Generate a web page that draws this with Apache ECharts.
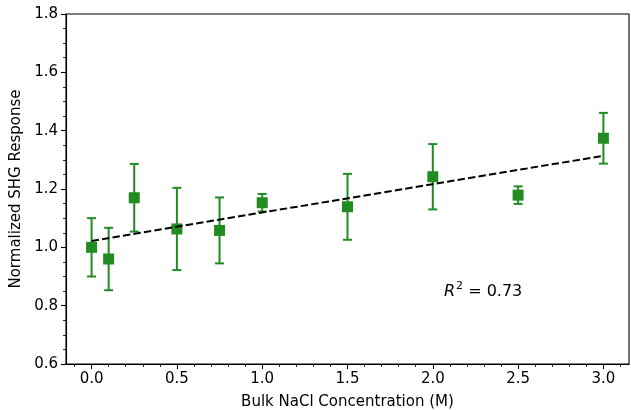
<!DOCTYPE html>
<html>
<head>
<meta charset="utf-8">
<script src="https://cdn.jsdelivr.net/npm/echarts@6/dist/echarts.min.js"></script>
<style>html,body{margin:0;padding:0;background:#fff}#c{width:631px;height:410px}</style>
</head>
<body>
<div id="c"></div>
<script>
const concentrations = [0.0, 0.1, 0.25, 0.5, 0.75, 1.0, 1.5, 2.0, 2.5, 3.0];
const shgResponse = [1.000, 0.960, 1.170, 1.063, 1.058, 1.153, 1.139, 1.242, 1.179, 1.374];
const shgError = [0.100, 0.107, 0.116, 0.141, 0.113, 0.030, 0.113, 0.112, 0.030, 0.087];
const fitX = [0.0, 3.0];
const fitY = [1.022, 1.314];
const xTickValues = [0.0, 0.5, 1.0, 1.5, 2.0, 2.5, 3.0];
const xMinorTickValues = [-0.1, 0.0, 0.1, 0.2, 0.3, 0.4, 0.5, 0.6, 0.7, 0.8, 0.9, 1.0, 1.1, 1.2, 1.3, 1.4, 1.5, 1.6, 1.7, 1.8, 1.9, 2.0, 2.1, 2.2, 2.3, 2.4, 2.5, 2.6, 2.7, 2.8, 2.9, 3.0, 3.1];
const r2Text = '0.73';

const green = '#228B22';
const font = 'DejaVu Sans';

const chart = echarts.init(document.getElementById('c'), null, {renderer: 'canvas'});

const errData = concentrations.map((x, i) => [x, shgResponse[i] - shgError[i], shgResponse[i] + shgError[i]]);
const pts = concentrations.map((x, i) => [x, shgResponse[i]]);
const fitData = fitX.map((x, i) => [x, fitY[i]]);

chart.setOption({
  animation: false,
  backgroundColor: '#fff',
  grid: {left: 66, right: 2, top: 14, bottom: 46, outerBoundsMode: 'none', containLabel: false, show: true, borderColor: '#000', borderWidth: 1.1, backgroundColor: 'transparent'},
  xAxis: [{
    type: 'value', min: -0.15, max: 3.15,
    name: 'Bulk NaCl Concentration (M)', nameLocation: 'middle', nameGap: 31,
    nameTextStyle: {fontFamily: font, fontSize: 15, color: '#000'},
    axisLine: {show: true, onZero: false, lineStyle: {color: '#000', width: 1.1}},
    axisTick: {show: true, length: 5, inside: false, customValues: xTickValues, lineStyle: {color: '#000', width: 1.1}},
    axisLabel: {customValues: xTickValues, formatter: v => v.toFixed(1), fontFamily: font, fontSize: 15, color: '#000', margin: 8},
    splitLine: {show: false}
  }, {
    type: 'value', min: -0.15, max: 3.15, position: 'bottom', gridIndex: 0,
    axisLine: {show: false, onZero: false},
    axisTick: {show: true, length: 3, customValues: xMinorTickValues, lineStyle: {color: '#000', width: 0.8}},
    axisLabel: {show: false},
    splitLine: {show: false}
  }],
  yAxis: {
    type: 'value', min: 0.6, max: 1.8, interval: 0.2,
    name: 'Normalized SHG Response', nameLocation: 'middle', nameGap: 38,
    nameTextStyle: {fontFamily: font, fontSize: 15, color: '#000'},
    axisLine: {show: true, onZero: false, lineStyle: {color: '#000', width: 1.1}},
    axisTick: {show: true, length: 5, lineStyle: {color: '#000', width: 1.1}},
    minorTick: {show: true, splitNumber: 4, length: 3, lineStyle: {color: '#000', width: 0.8}},
    axisLabel: {formatter: v => v.toFixed(1), fontFamily: font, fontSize: 15, color: '#000', margin: 8},
    splitLine: {show: false}
  },
  series: [{
    type: 'custom', z: 2,
    data: errData,
    renderItem: function (params, api) {
      const x = api.value(0);
      const lo = api.coord([x, api.value(1)]);
      const hi = api.coord([x, api.value(2)]);
      const cap = 4.5;
      const style = {stroke: green, lineWidth: 2};
      return {type: 'group', children: [
        {type: 'line', shape: {x1: lo[0], y1: lo[1], x2: hi[0], y2: hi[1]}, style: style},
        {type: 'line', shape: {x1: lo[0] - cap, y1: lo[1], x2: lo[0] + cap, y2: lo[1]}, style: style},
        {type: 'line', shape: {x1: hi[0] - cap, y1: hi[1], x2: hi[0] + cap, y2: hi[1]}, style: style}
      ]};
    }
  }, {
    type: 'scatter', z: 3,
    data: pts, symbol: 'rect', symbolSize: 11,
    itemStyle: {color: green, opacity: 1}
  }, {
    type: 'line', z: 4,
    data: fitData, showSymbol: false, symbol: 'none',
    lineStyle: {color: '#000', width: 2, type: [7.4, 3.2]}
  }]
});

const p = chart.convertToPixel({xAxisIndex: 0, yAxisIndex: 0}, [2.3, 0.845]);
chart.setOption({
  graphic: [{
    type: 'text', left: p[0] - 40, top: p[1] - 12,
    style: {
      text: '{i|R}{s|2}{n| = ' + r2Text + '}',
      rich: {
        i: {fontFamily: font, fontStyle: 'italic', fontSize: 16, color: '#000', lineHeight: 22},
        s: {fontFamily: font, fontSize: 11, color: '#000', verticalAlign: 'top', lineHeight: 22, padding: [0, 0, 8, 1]},
        n: {fontFamily: font, fontSize: 16, color: '#000', lineHeight: 22}
      }
    }
  }]
});
</script>
</body>
</html>
